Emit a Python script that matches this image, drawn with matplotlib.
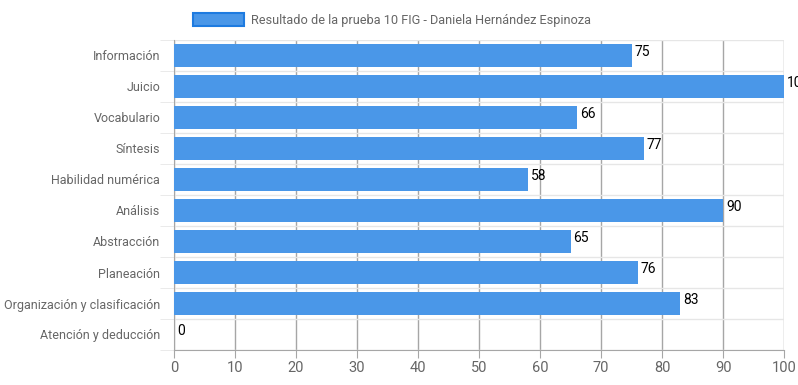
import matplotlib
matplotlib.use('Agg')
import matplotlib.pyplot as plt
import numpy as np

plt.rcParams['font.family'] = ['Roboto', 'DejaVu Sans']

categories = ['Información', 'Juicio', 'Vocabulario', 'Síntesis', 'Habilidad numérica',
              'Análisis', 'Abstracción', 'Planeación', 'Organización y clasificación',
              'Atención y deducción']
values = [75, 100, 66, 77, 58, 90, 65, 76, 83, 0]
xticks = list(range(0, 101, 10))
legend_label = 'Resultado de la prueba 10 FIG - Daniela Hernández Espinoza'

fig = plt.figure(figsize=(7.98, 3.85), dpi=100)
ax = fig.add_axes([174 / 798, 35 / 385, 610 / 798, 310 / 385])

y = np.arange(len(categories))
bars = ax.barh(y, values, height=0.72, color='#4a97e8', linewidth=0,
               label=legend_label, zorder=3)

for yi, v in zip(y, values):
    ax.text(v + 0.5, yi - 0.1, str(v), ha='left', va='center', fontsize=10,
            color='black', zorder=4, clip_on=False)

ax.set_xlim(0, 100)
ax.set_ylim(len(categories) - 0.5, -0.5)
ax.set_xticks(xticks)
ax.set_yticks(y)
ax.set_yticklabels(categories)

# category boundary lines
ax.set_yticks(np.arange(-0.5, len(categories), 1), minor=True)
ax.grid(True, which='minor', axis='y', color='#e6e6e6', linewidth=1, zorder=0)
ax.grid(True, which='major', axis='x', color='#a6a6a6', linewidth=1, zorder=0)
ax.tick_params(axis='y', which='major', length=0, pad=10, labelsize=9, labelcolor='#666666')
ax.tick_params(axis='y', which='minor', length=10, color='#e6e6e6')
ax.tick_params(axis='x', length=6, color='#a6a6a6', labelsize=10.5, labelcolor='#666666', pad=2)

for side in ['top', 'right']:
    ax.spines[side].set_visible(False)
ax.spines['left'].set_color('#a6a6a6')
ax.spines['bottom'].set_color('#a6a6a6')

leg = fig.legend(handles=[bars], labels=[legend_label], loc='center', bbox_to_anchor=(392 / 798, 1 - 20 / 385),
                 frameon=False, fontsize=9.2, handlelength=4.0, handleheight=1.2,
                 labelcolor='#666666', handletextpad=0.6)
for p in leg.get_patches():
    p.set_edgecolor('#1e7be0')
    p.set_linewidth(1.5)

fig.savefig('out.png', dpi=100)
